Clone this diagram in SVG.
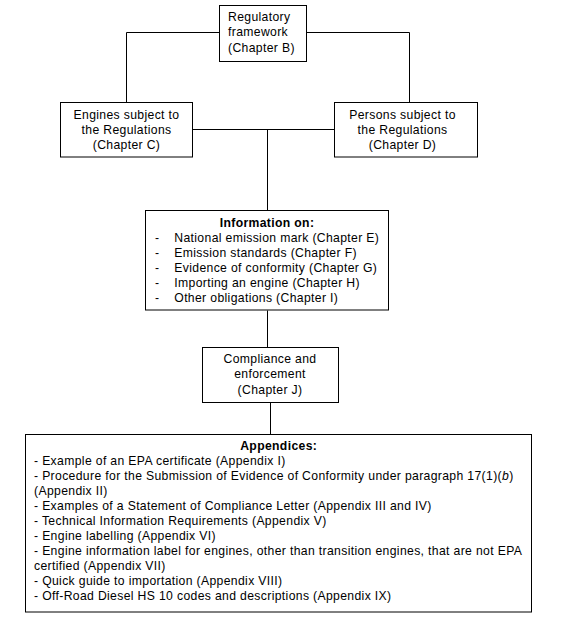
<svg xmlns="http://www.w3.org/2000/svg" width="565" height="622" viewBox="0 0 565 622">
<style>
.box{fill:#fff;stroke:#000;stroke-width:1}
.ln{fill:none;stroke:#000;stroke-width:1}
text{font-family:"Liberation Sans",Arial,sans-serif;font-size:12.2px;letter-spacing:0.35px;fill:#000}
.c{text-anchor:middle}
.b{font-weight:bold}
</style>
<rect width="565" height="622" fill="#fff"/>
<g id="connectors">
<polyline class="ln" points="219.5,32.5 126.5,32.5 126.5,102.5"/>
<polyline class="ln" points="306.5,32.5 409.5,32.5 409.5,102.5"/>
<line class="ln" x1="192.5" y1="129.5" x2="334.5" y2="129.5"/>
<line class="ln" x1="267.5" y1="129.5" x2="267.5" y2="210.5"/>
<line class="ln" x1="267.5" y1="310.5" x2="267.5" y2="347.5"/>
<line class="ln" x1="270.5" y1="402.5" x2="270.5" y2="434.5"/>
</g>
<g id="nodeB">
<rect class="box" x="219.5" y="5.5" width="87" height="56"/>
<text x="228" y="20.5">Regulatory</text>
<text x="228" y="36">framework</text>
<text x="228" y="51.5">(Chapter B)</text>
</g>
<g id="nodeC">
<rect class="box" x="60.5" y="102.5" width="132" height="54.5"/>
<text class="c" x="126.5" y="119">Engines subject to</text>
<text class="c" x="126.5" y="134">the Regulations</text>
<text class="c" x="126.5" y="149">(Chapter C)</text>
</g>
<g id="nodeD">
<rect class="box" x="334.5" y="102.5" width="143" height="54.5"/>
<text class="c" x="402.5" y="119">Persons subject to</text>
<text class="c" x="402.5" y="134">the Regulations</text>
<text class="c" x="402.5" y="149">(Chapter D)</text>
</g>
<g id="nodeInfo">
<rect class="box" x="145.5" y="210.5" width="243" height="99.5"/>
<text class="c b" x="267" y="226.5">Information on:</text>
<text x="155" y="241.5">-</text><text x="174.3" y="241.5">National emission mark (Chapter E)</text>
<text x="155" y="256.5">-</text><text x="174.3" y="256.5">Emission standards (Chapter F)</text>
<text x="155" y="271.5">-</text><text x="174.3" y="271.5">Evidence of conformity (Chapter G)</text>
<text x="155" y="286.5">-</text><text x="174.3" y="286.5">Importing an engine (Chapter H)</text>
<text x="155" y="301.5">-</text><text x="174.3" y="301.5">Other obligations (Chapter I)</text>
</g>
<g id="nodeJ">
<rect class="box" x="202.5" y="347.5" width="136" height="55"/>
<text class="c" x="270" y="362.5">Compliance and</text>
<text class="c" x="270" y="378">enforcement</text>
<text class="c" x="270" y="393.5">(Chapter J)</text>
</g>
<g id="nodeAppendices">
<rect class="box" x="25.5" y="434.5" width="506" height="177.5"/>
<text class="c b" x="278.7" y="450">Appendices:</text>
<text x="34" y="465">- Example of an EPA certificate (Appendix I)</text>
<text x="34" y="480">- Procedure for the Submission of Evidence of Conformity under paragraph 17(1)(<tspan font-style="italic">b</tspan>)</text>
<text x="34" y="495">(Appendix II)</text>
<text x="34" y="510">- Examples of a Statement of Compliance Letter (Appendix III and IV)</text>
<text x="34" y="525">- Technical Information Requirements (Appendix V)</text>
<text x="34" y="540">- Engine labelling (Appendix VI)</text>
<text x="34" y="555">- Engine information label for engines, other than transition engines, that are not EPA</text>
<text x="34" y="570">certified (Appendix VII)</text>
<text x="34" y="585">- Quick guide to importation (Appendix VIII)</text>
<text x="34" y="600">- Off-Road Diesel HS 10 codes and descriptions (Appendix IX)</text>
</g>
</svg>
